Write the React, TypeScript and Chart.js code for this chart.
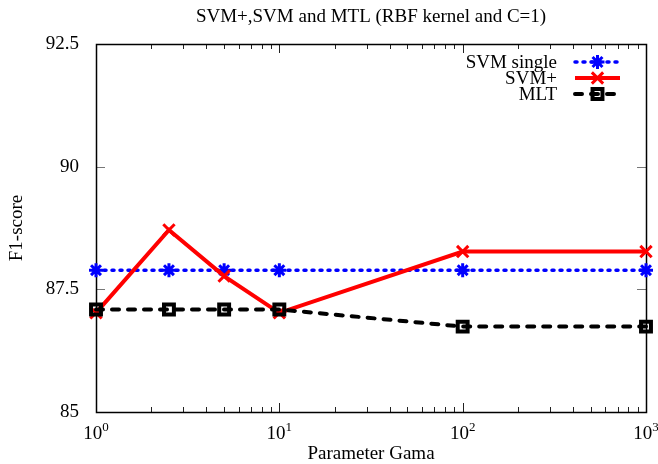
import React, { useEffect, useRef } from 'react';
import { Chart, registerables } from 'chart.js';

Chart.register(...registerables);

// ---- data ----
const gammaValues = [1, 2.5, 5, 10, 100, 1000];
const svmSingle = [87.89, 87.89, 87.89, 87.89, 87.89, 87.89];
const svmPlus = [87.02, 88.71, 87.77, 87.02, 88.27, 88.27];
const mlt = [87.09, 87.09, 87.09, 87.09, 86.74, 86.74];
const seriesLabels = ['SVM single', 'SVM+', 'MLT'];
const xTickExponents = [0, 1, 2, 3];
const yTickValues = [85, 87.5, 90, 92.5];
const titleText = 'SVM+,SVM and MTL (RBF kernel and C=1)';
const xTitle = 'Parameter Gama';
const yTitle = 'F1-score';

const FONT = "'Liberation Serif', 'Times New Roman', serif";

function drawMarker(ctx: CanvasRenderingContext2D, style: string, x: number, y: number, r: number) {
  ctx.beginPath();
  if (style === 'star') {
    ctx.moveTo(x - r, y); ctx.lineTo(x + r, y);
    ctx.moveTo(x, y - r); ctx.lineTo(x, y + r);
    const d = r * Math.SQRT1_2;
    ctx.moveTo(x - d, y - d); ctx.lineTo(x + d, y + d);
    ctx.moveTo(x - d, y + d); ctx.lineTo(x + d, y - d);
  } else if (style === 'crossRot') {
    const d = r * Math.SQRT1_2;
    ctx.moveTo(x - d, y - d); ctx.lineTo(x + d, y + d);
    ctx.moveTo(x - d, y + d); ctx.lineTo(x + d, y - d);
  } else {
    const s = r * Math.SQRT1_2;
    ctx.rect(x - s, y - s, 2 * s, 2 * s);
  }
  ctx.stroke();
}

const framePlugin = {
  id: 'gnuplotFrame',
  beforeDatasetsDraw(chart: any) {
    const { ctx, chartArea: a, scales } = chart;
    const xs = scales.x;
    const ys = scales.y;
    ctx.save();
    ctx.strokeStyle = '#222';
    ctx.lineWidth = 1;
    const first = xTickExponents[0];
    const last = xTickExponents[xTickExponents.length - 1];
    for (let k = first; k <= last; k++) {
      for (let m = 1; m <= 9; m++) {
        if (k === last && m > 1) break;
        const v = m * Math.pow(10, k);
        const px = Math.round(xs.getPixelForValue(v)) + 0.5;
        const len = m === 1 ? 9 : 5;
        ctx.beginPath();
        ctx.moveTo(px, a.bottom); ctx.lineTo(px, a.bottom - len);
        ctx.moveTo(px, a.top); ctx.lineTo(px, a.top + len);
        ctx.stroke();
      }
    }
    ctx.strokeStyle = '#777';
    for (const v of yTickValues) {
      const py = Math.round(ys.getPixelForValue(v)) + 0.5;
      ctx.beginPath();
      ctx.moveTo(a.left, py); ctx.lineTo(a.left + 9, py);
      ctx.moveTo(a.right, py); ctx.lineTo(a.right - 9, py);
      ctx.stroke();
    }
    ctx.strokeStyle = '#000';
    ctx.lineWidth = 1.5;
    ctx.strokeRect(Math.round(a.left) + 0.5, Math.round(a.top) + 0.5, Math.round(a.width), Math.round(a.height));
    ctx.restore();
  },
  afterDraw(chart: any) {
    const { ctx, chartArea: a, scales } = chart;
    const xs = scales.x;
    ctx.save();
    ctx.fillStyle = '#000';
    for (const e of xTickExponents) {
      const px = xs.getPixelForValue(Math.pow(10, e));
      ctx.font = `19px ${FONT}`;
      const base = '10';
      const wb = ctx.measureText(base).width;
      ctx.font = `13px ${FONT}`;
      const exp = String(e);
      const we = ctx.measureText(exp).width;
      const start = px - (wb + we) / 2;
      ctx.textBaseline = 'alphabetic';
      ctx.textAlign = 'left';
      ctx.font = `19px ${FONT}`;
      ctx.fillText(base, start, a.bottom + 27);
      ctx.font = `13px ${FONT}`;
      ctx.fillText(exp, start + wb, a.bottom + 19);
    }
    const rows = [62, 78, 94];
    const textRight = 557;
    const sx0 = 575;
    const sx1 = 620;
    chart.data.datasets.forEach((ds: any, i: number) => {
      const y = rows[i];
      ctx.font = `19px ${FONT}`;
      ctx.textAlign = 'right';
      ctx.textBaseline = 'middle';
      ctx.fillStyle = '#000';
      ctx.fillText(ds.label, textRight, y + 1);
      ctx.strokeStyle = ds.borderColor;
      ctx.lineWidth = ds.borderWidth;
      ctx.lineCap = ds.borderCapStyle || 'butt';
      ctx.setLineDash(ds.borderDash || []);
      ctx.beginPath();
      ctx.moveTo(sx0, y); ctx.lineTo(sx1, y);
      ctx.stroke();
      ctx.setLineDash([]);
      ctx.lineWidth = ds.pointBorderWidth;
      ctx.lineCap = 'butt';
      drawMarker(ctx, ds.pointStyle, (sx0 + sx1) / 2, y, ds.pointRadius);
    });
    ctx.restore();
  },
};

export default function App() {
  const ref = useRef<HTMLCanvasElement | null>(null);

  useEffect(() => {
    document.body.style.margin = '0';
    const canvas = ref.current;
    if (!canvas) return;
    const toPoints = (ys: number[]) => gammaValues.map((x, i) => ({ x, y: ys[i] }));
    const chart = new Chart(canvas, {
      type: 'line',
      data: {
        datasets: [
          {
            label: seriesLabels[0],
            data: toPoints(svmSingle),
            borderColor: '#0000ff',
            backgroundColor: 'transparent',
            borderWidth: 3.5,
            borderDash: [2, 6],
            borderCapStyle: 'round',
            pointStyle: 'star',
            pointRadius: 7,
            pointBorderWidth: 3,
            pointBorderColor: '#0000ff',
            pointBackgroundColor: '#0000ff',
            order: 3,
            clip: false,
          },
          {
            label: seriesLabels[1],
            data: toPoints(svmPlus),
            borderColor: '#ff0000',
            backgroundColor: 'transparent',
            borderWidth: 4,
            pointStyle: 'crossRot',
            pointRadius: 8,
            pointBorderWidth: 3,
            pointBorderColor: '#ff0000',
            order: 2,
            clip: false,
          },
          {
            label: seriesLabels[2],
            data: toPoints(mlt),
            borderColor: '#000000',
            backgroundColor: 'transparent',
            borderWidth: 4,
            borderDash: [7, 9],
            borderCapStyle: 'round',
            pointStyle: 'rect',
            pointRadius: 7,
            pointBorderWidth: 4,
            pointBorderColor: '#000000',
            pointBackgroundColor: 'transparent',
            order: 1,
            clip: false,
          },
        ] as any,
      },
      options: {
        responsive: false,
        animation: false,
        events: [],
        layout: { padding: { top: 0, right: 12, left: 0, bottom: 0 } },
        font: { family: FONT },
        plugins: {
          legend: { display: false },
          tooltip: { enabled: false },
          title: {
            display: true,
            fullSize: false,
            text: titleText,
            color: '#000',
            font: { family: FONT, size: 19, weight: 'normal', lineHeight: 1.2 },
            padding: { top: 6, bottom: 15.2 },
          },
        },
        scales: {
          x: {
            type: 'logarithmic',
            min: 1,
            max: 1000,
            grid: { display: false },
            border: { display: false },
            ticks: { display: false },
            title: {
              display: true,
              text: xTitle,
              color: '#000',
              font: { family: FONT, size: 19, lineHeight: 1 },
              padding: { top: 0, bottom: 0 },
            },
            afterFit: (s: any) => { s.height = 52; },
          },
          y: {
            type: 'linear',
            min: 85,
            max: 92.5,
            afterBuildTicks: (s: any) => { s.ticks = yTickValues.map((v) => ({ value: v })); },
            grid: { display: false, drawTicks: false },
            border: { display: false },
            ticks: {
              color: '#000',
              padding: 17,
              font: { family: FONT, size: 19 },
              callback: (v: any) => String(v),
            },
            title: {
              display: true,
              text: yTitle,
              color: '#000',
              font: { family: FONT, size: 19, lineHeight: 1 },
              padding: { top: 7.5, bottom: 0 },
            },
            afterFit: (s: any) => { s.width = 96; },
          },
        },
      } as any,
      plugins: [framePlugin],
    });
    return () => chart.destroy();
  }, []);

  return (
    <div style={{ width: 658, height: 464 }}>
      <canvas ref={ref} width={658} height={464} style={{ display: 'block' }} />
    </div>
  );
}
